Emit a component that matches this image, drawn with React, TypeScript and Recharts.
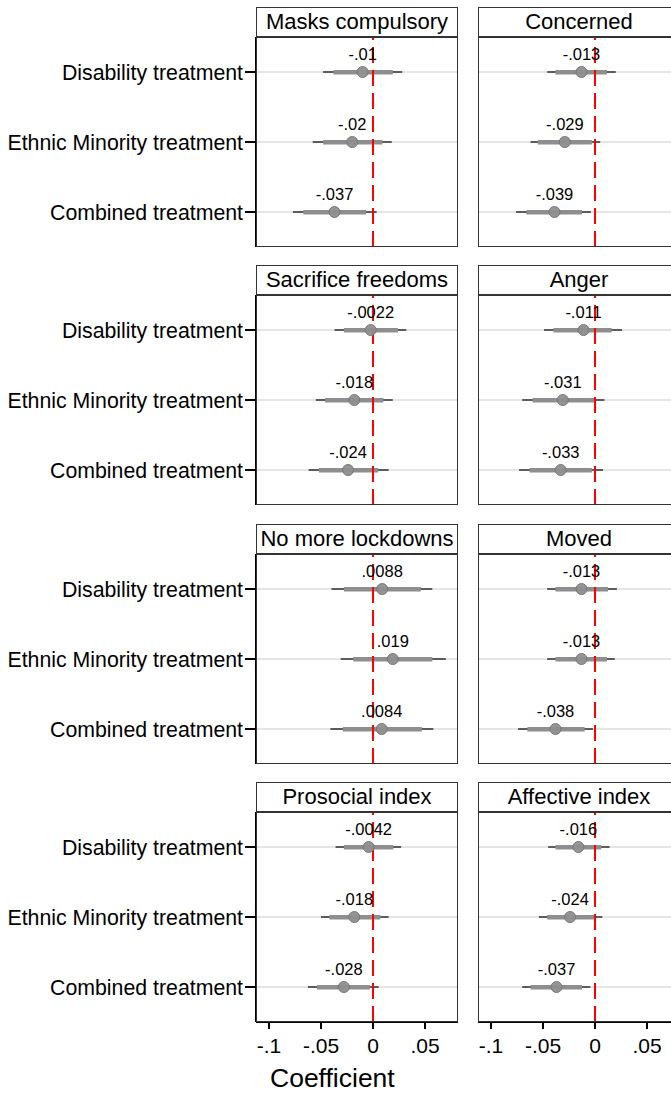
import React from "react";
import {
  Bar,
  CartesianGrid,
  ComposedChart,
  LabelList,
  Line,
  ReferenceLine,
  XAxis,
  YAxis,
} from "recharts";

const treatments = ["Disability treatment", "Ethnic Minority treatment", "Combined treatment"];

const outcomes = [
  "Masks compulsory",
  "Concerned",
  "Sacrifice freedoms",
  "Anger",
  "No more lockdowns",
  "Moved",
  "Prosocial index",
  "Affective index",
];

// point estimates, one row per outcome (Disability, Ethnic Minority, Combined)
const coefs = [
  [-0.01, -0.02, -0.037],
  [-0.013, -0.029, -0.039],
  [-0.0022, -0.018, -0.024],
  [-0.011, -0.031, -0.033],
  [0.0088, 0.019, 0.0084],
  [-0.013, -0.013, -0.038],
  [-0.0042, -0.018, -0.028],
  [-0.016, -0.024, -0.037],
];

// 95% intervals
const lo95 = [
  [-0.048, -0.058, -0.077],
  [-0.046, -0.062, -0.076],
  [-0.037, -0.055, -0.062],
  [-0.049, -0.07, -0.073],
  [-0.04, -0.031, -0.041],
  [-0.046, -0.046, -0.074],
  [-0.036, -0.05, -0.0625],
  [-0.045, -0.054, -0.07],
];
const hi95 = [
  [0.028, 0.018, 0.0035],
  [0.02, 0.005, -0.004],
  [0.032, 0.019, 0.015],
  [0.026, 0.009, 0.0077],
  [0.057, 0.07, 0.058],
  [0.021, 0.019, -0.002],
  [0.027, 0.015, 0.0055],
  [0.014, 0.007, -0.0045],
];

// 90% intervals
const lo90 = [
  [-0.038, -0.048, -0.067],
  [-0.038, -0.055, -0.066],
  [-0.028, -0.046, -0.052],
  [-0.04, -0.06, -0.063],
  [-0.028, -0.019, -0.029],
  [-0.038, -0.038, -0.065],
  [-0.028, -0.042, -0.054],
  [-0.038, -0.046, -0.062],
];
const hi90 = [
  [0.019, 0.009, -0.0067],
  [0.0115, -0.003, -0.0125],
  [0.024, 0.01, 0.005],
  [0.016, -0.001, -0.003],
  [0.046, 0.057, 0.047],
  [0.0125, 0.0115, -0.01],
  [0.0195, 0.007, -0.003],
  [0.006, -0.001, -0.0125],
];

const xTicks = [-0.1, -0.05, 0, 0.05];
const xDomain: [number, number] = [-0.1125, 0.0817];

// Stata-style number: drop the leading zero
const fmt = (v: any) => String(v).replace("0.", ".");

const PLOT_W = 202;
const PLOT_H = 210;
const TITLE_H = 30;
const Y_W = 256;
const COL_X = [0, 478];
const ROW_TOP = 37;
const ROW_PITCH = 258.3;

function Panel({ k }: { k: number }) {
  const col = k % 2;
  const row = Math.floor(k / 2);
  const showY = col === 0;
  const showX = row === 3;
  const yw = showY ? Y_W : 0;
  const data = treatments.map((name, i) => ({
    name,
    coef: coefs[k][i],
    ci95: [lo95[k][i], hi95[k][i]],
    ci90: [lo90[k][i], hi90[k][i]],
  }));

  return (
    <div style={{ position: "absolute", left: COL_X[col], top: ROW_TOP + row * ROW_PITCH }}>
      <div
        style={{
          position: "absolute",
          left: yw,
          top: -TITLE_H,
          width: PLOT_W,
          height: TITLE_H,
          boxSizing: "border-box",
          border: "1.5px solid #333",
          background: "#fff",
          fontSize: 22,
          lineHeight: `${TITLE_H - 3}px`,
          textAlign: "center",
          whiteSpace: "nowrap",
          color: "#000",
        }}
      >
        {outcomes[k]}
      </div>
      <ComposedChart
        layout="vertical"
        width={yw + PLOT_W}
        height={PLOT_H + (showX ? 60 : 0)}
        data={data}
        margin={{ top: 0, right: 0, bottom: 0, left: 0 }}
      >
        <CartesianGrid yAxisId="ci95" vertical={false} stroke="#dcdcdc" strokeWidth={1.5} />
        <XAxis
          type="number"
          domain={xDomain}
          ticks={xTicks}
          tickFormatter={fmt}
          hide={!showX}
          height={60}
          axisLine={{ stroke: "#000", strokeWidth: 2 }}
          tickLine={{ stroke: "#000", strokeWidth: 2 }}
          tickSize={7}
          tickMargin={9}
          tick={{ fill: "#000", fontSize: 21 }}
        />
        <YAxis
          yAxisId="ci95"
          type="category"
          dataKey="name"
          width={yw}
          hide={!showY}
          axisLine={{ stroke: "#000", strokeWidth: 2 }}
          tickLine={{ stroke: "#000", strokeWidth: 2 }}
          tickSize={11}
          tickMargin={2}
          tick={{ fill: "#000", fontSize: 21.3 }}
          interval={0}
        />
        <YAxis yAxisId="ci90" type="category" dataKey="name" width={0} hide />
        <Bar yAxisId="ci95" dataKey="ci95" barSize={2} fill="#5c5c5c" isAnimationActive={false} />
        <Bar yAxisId="ci90" dataKey="ci90" barSize={4.5} fill="#8e8e8e" isAnimationActive={false} />
        <Line
          yAxisId="ci95"
          dataKey="coef"
          stroke="none"
          dot={{ r: 5.5, fill: "#8f8f8f", stroke: "#787878", strokeWidth: 1, fillOpacity: 0.95 }}
          activeDot={false}
          isAnimationActive={false}
        >
          <LabelList
            dataKey="coef"
            position="top"
            offset={12}
            formatter={fmt}
            style={{ fill: "#000", fontSize: 16.5 }}
          />
        </Line>
        <ReferenceLine yAxisId="ci95" x={0} stroke="#ff0000" strokeWidth={2} strokeDasharray="16 7" />
      </ComposedChart>
      <div
        style={{
          position: "absolute",
          left: yw,
          top: 0,
          width: PLOT_W,
          height: PLOT_H,
          boxSizing: "border-box",
          border: "1.5px solid #333",
          pointerEvents: "none",
        }}
      />
    </div>
  );
}

export default function App() {
  return (
    <div
      style={{
        position: "absolute",
        left: 0,
        top: 0,
        width: 671,
        height: 1093,
        overflow: "hidden",
        background: "#fff",
        fontFamily: "'Liberation Sans', Arial, Helvetica, sans-serif",
      }}
    >
      {outcomes.map((_, k) => (
        <Panel key={k} k={k} />
      ))}
      <div style={{ position: "absolute", left: 270, top: 1065, fontSize: 26.5, lineHeight: 1, color: "#000" }}>
        Coefficient
      </div>
    </div>
  );
}
